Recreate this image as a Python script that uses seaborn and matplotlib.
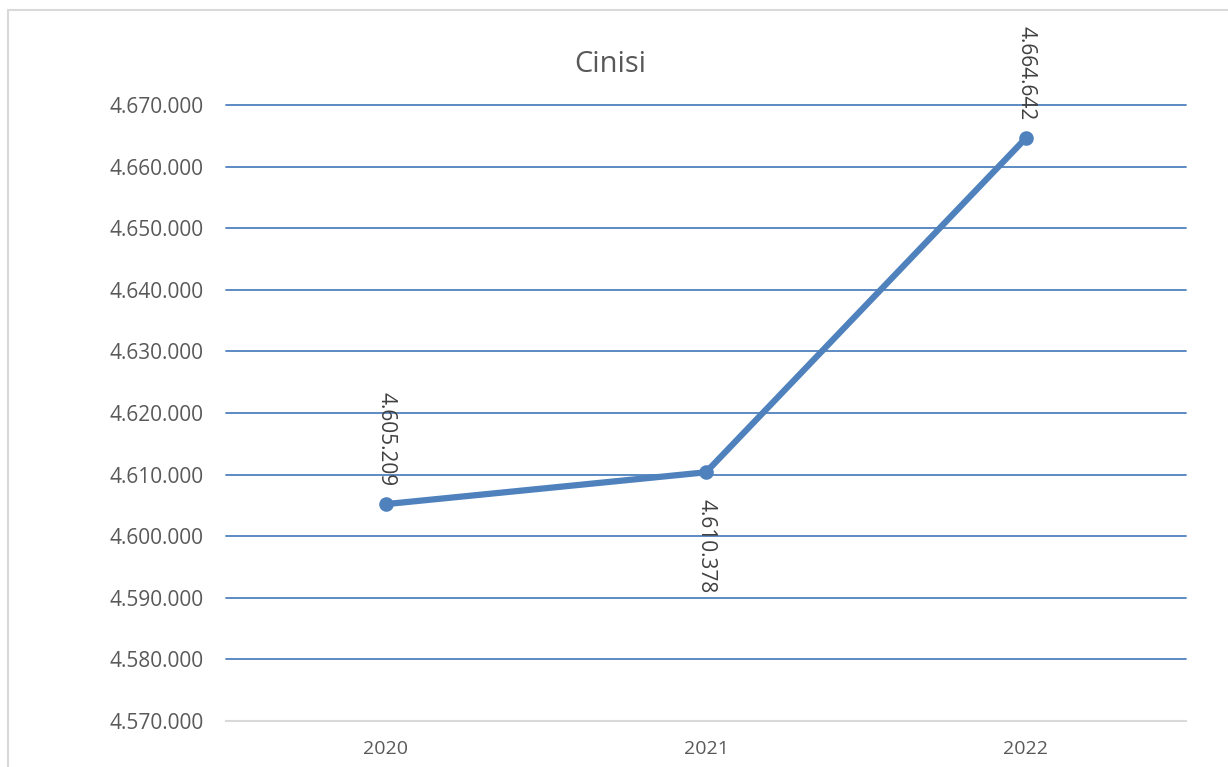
import matplotlib
matplotlib.use("Agg")
import matplotlib.pyplot as plt
import matplotlib.ticker as mticker
from matplotlib.patches import Rectangle
import seaborn as sns
import pandas as pd

years = ["2020", "2021", "2022"]
values = [4605209, 4610378, 4664642]
label_pos = ["above", "below", "above"]
title = "Cinisi"

sns.set_theme(style="white")
plt.rcParams['font.family'] = ['Open Sans', 'DejaVu Sans']

TXT = "#595959"
BLUE = "#4F81BD"

fig = plt.figure(figsize=(12.28, 7.67), dpi=100)
fig.patches.append(Rectangle((8/1228, -0.01), 1.02, 1 - 10/767 + 0.01,
                             transform=fig.transFigure, fill=False,
                             edgecolor="#D9D9D9", linewidth=1.5))
ax = fig.add_axes([226/1228, 1 - 721/767, (1186 - 226)/1228, (721 - 105)/767])

df = pd.DataFrame({"year": years, "value": values})
sns.lineplot(data=df, x="year", y="value", ax=ax, color=BLUE, linewidth=4.5,
             marker="o", markersize=10.5, markeredgewidth=0, zorder=3)

ax.set_xlim(-0.5, len(years) - 0.5)
ax.set_ylim(4570000, 4670000)
ax.yaxis.set_major_locator(mticker.MultipleLocator(10000))
ax.yaxis.set_major_formatter(mticker.FuncFormatter(lambda v, p: f"{int(round(v)):,}".replace(",", ".")))

for y in range(4580000, 4670001, 10000):
    ax.axhline(y, color=BLUE, linewidth=1.3, zorder=1, clip_on=False)

for s in ["top", "right", "left"]:
    ax.spines[s].set_visible(False)
ax.spines["bottom"].set_color("#D9D9D9")
ax.spines["bottom"].set_linewidth(1.5)

ax.tick_params(axis="both", length=0, labelcolor=TXT)
ax.tick_params(axis="y", pad=16, labelsize=15)
ax.tick_params(axis="x", pad=14, labelsize=14)
ax.set_xlabel("")
ax.set_ylabel("")

for i, (v, pos) in enumerate(zip(values, label_pos)):
    lab = f"{v:,}".replace(",", ".")
    if pos == "above":
        ax.annotate(lab, (i, v), xytext=(0, 13), textcoords="offset points",
                    rotation=270, ha="center", va="bottom", color="#404040",
                    fontsize=15, annotation_clip=False)
    else:
        ax.annotate(lab, (i, v), xytext=(0, -19), textcoords="offset points",
                    rotation=270, ha="center", va="top", color="#404040",
                    fontsize=15, annotation_clip=False)

fig.text(610/1228, 1 - 64/767, title, ha="center", va="center",
         color=TXT, fontsize=21)

fig.savefig("out.png", dpi=100)
